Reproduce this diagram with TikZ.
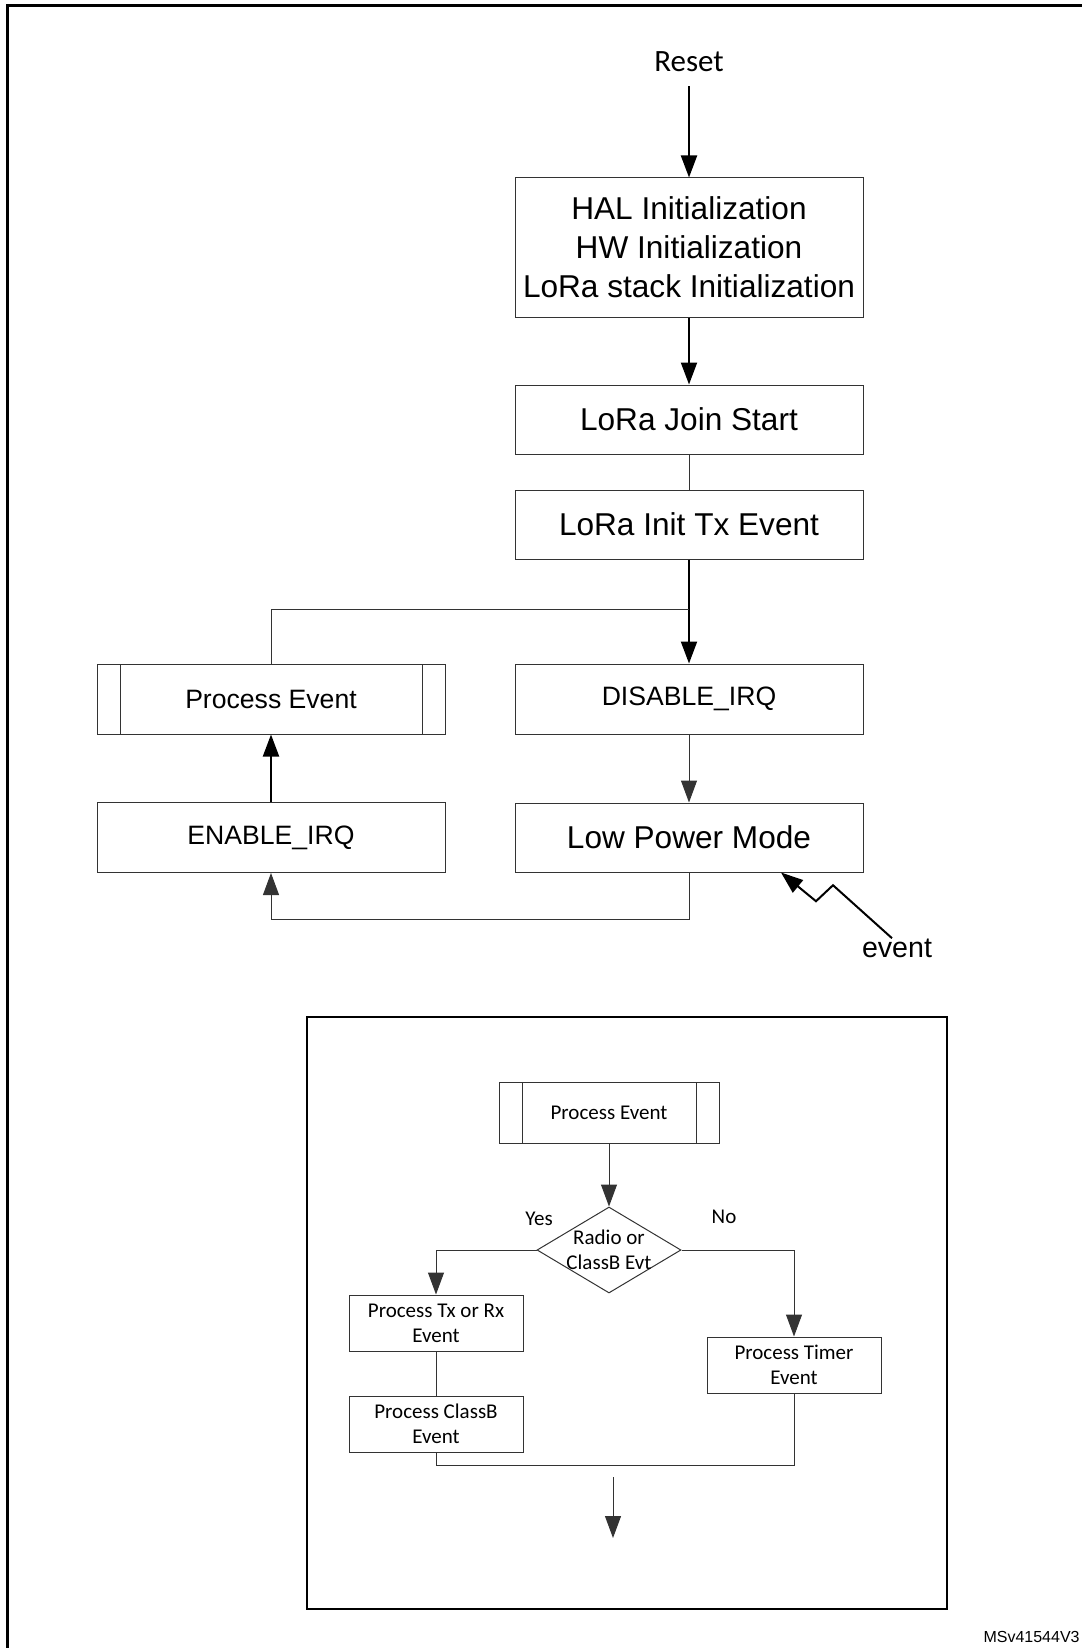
\documentclass[tikz,border=0pt]{standalone}
\usepackage{fontspec}
\setmainfont{Liberation Sans}
\newfontfamily\carlito{Carlito}
\usetikzlibrary{arrows.meta, graphs, positioning, shapes.geometric}

\begin{document}
\begin{tikzpicture}
    [
        x=0.5pt,
        y=-0.5pt,
        >={Triangle[length=11pt,width=8pt]},
        box/.style = {
                draw=black!80,
                line width=0.5pt,
                rectangle,
                minimum width=174pt,
                minimum height=34.5pt,
                inner sep=0pt,
                align=center,
                font=\fontsize{15.8}{19.5}\selectfont
            },
        smallbox/.style = {
                box,
                minimum height=35pt,
                font=\fontsize{13.3}{16}\selectfont
            },
        flowbox/.style = {
                box,
                minimum width=87pt,
                minimum height=28pt,
                font=\carlito\fontsize{10.5}{12.5}\selectfont
            },
        subproc/.style = {
                path picture={
                        \draw[black!80, line width=0.5pt]
                        ([xshift=11.5pt]path picture bounding box.north west) -- ([xshift=11.5pt]path picture bounding box.south west)
                        ([xshift=-11.5pt]path picture bounding box.north east) -- ([xshift=-11.5pt]path picture bounding box.south east);
                    }
            },
        decision/.style = {
                diamond,
                draw=black!80,
                line width=0.5pt,
                minimum width=72pt,
                minimum height=43pt,
                inner sep=0pt
            },
        plaintext/.style = {
                inner sep=0pt,
                align=center
            },
        mainflow/.style = {
                line width=1pt,
                black
            },
        thinline/.style = {
                line width=0.5pt,
                black!80
            },
    ]

    \useasboundingbox (0,0) rectangle (1082,1648);

    \draw[line width=1.5pt] (7,1648) -- (7,6) -- (1082,6);
    \draw[line width=1.1pt] (307,1017) rectangle (947,1609);

    \node [box, minimum height=69.5pt] (hal) at (689,247.5) {HAL Initialization\\HW Initialization\\LoRa stack Initialization};
    \node [plaintext, inner sep=7pt, font=\carlito\fontsize{15.5}{18}\selectfont, above=45.5pt of hal] (reset) {Reset};
    \node [box, below=33.5pt of hal] (join) {LoRa Join Start};
    \node [box, below=17.5pt of join] (inittx) {LoRa Init Tx Event};
    \node [smallbox, below=52pt of inittx] (disable) {DISABLE\_IRQ};
    \node [box, below=34pt of disable] (lowpower) {Low Power Mode};
    \node [smallbox, subproc, left=34.5pt of disable] (procevt) {Process Event};
    \node [smallbox, left=34.5pt of lowpower] (enable) {ENABLE\_IRQ};
    \node [plaintext, font=\fontsize{14.3}{17}\selectfont] (event) at (897,948) {event};

    \coordinate [below=25pt of inittx.south] (split);
    \coordinate [below=23.5pt of lowpower.south] (loopback);

    \node [flowbox, subproc, minimum width=110pt, minimum height=30.5pt] (inproc) at (609,1112.5) {Process Event};
    \node [decision, below=31.5pt of inproc] (radio) {};
    \node [plaintext, font=\carlito\fontsize{10.5}{12.5}\selectfont] (radiotext) at (radio) {Radio or\\ClassB Evt};
    \node [plaintext, font=\carlito\fontsize{10.5}{12.5}\selectfont] (yes) at (539,1219) {Yes};
    \node [plaintext, font=\carlito\fontsize{10.5}{12.5}\selectfont] (no) at (724,1217) {No};
    \node [flowbox] (txrx) at (436,1323) {Process Tx or Rx\\Event};
    \node [flowbox, below=22pt of txrx] (classb) {Process ClassB\\Event};
    \node [flowbox] (timer) at (794,1365) {Process Timer\\Event};

    \coordinate [below=6.5pt of classb.south] (merge);
    \coordinate (exittop) at (613,1477);
    \coordinate (exitend) at (613,1538);

    \node [plaintext, font=\fontsize{8}{10}\selectfont, anchor=east] (figid) at (1080,1637) {MSv41544V3};

    \graph[use existing nodes] {
        reset ->[mainflow] hal ->[mainflow] join --[thinline] inittx ->[mainflow] disable ->[thinline] lowpower;
        enable ->[mainflow] procevt;
        inproc ->[thinline] radio;
        txrx --[thinline] classb;
    };

    \draw[thinline] (split) -| (procevt.north);
    \draw[thinline, ->] (lowpower.south) -- (loopback) -| (enable.south);
    \draw[mainflow, ->] ([xshift=-2.5pt]event.north) -- ++(-59,-53) -- ++(-17,16) -- ([xshift=46pt]lowpower.south);

    \draw[thinline, ->] (radio.west) -| (txrx.north);
    \draw[thinline, ->] (radio.east) -| (timer.north);
    \draw[thinline] (classb.south) -- (merge) -| (timer.south);
    \draw[thinline, ->] (exittop) -- (exitend);

\end{tikzpicture}
\end{document}
